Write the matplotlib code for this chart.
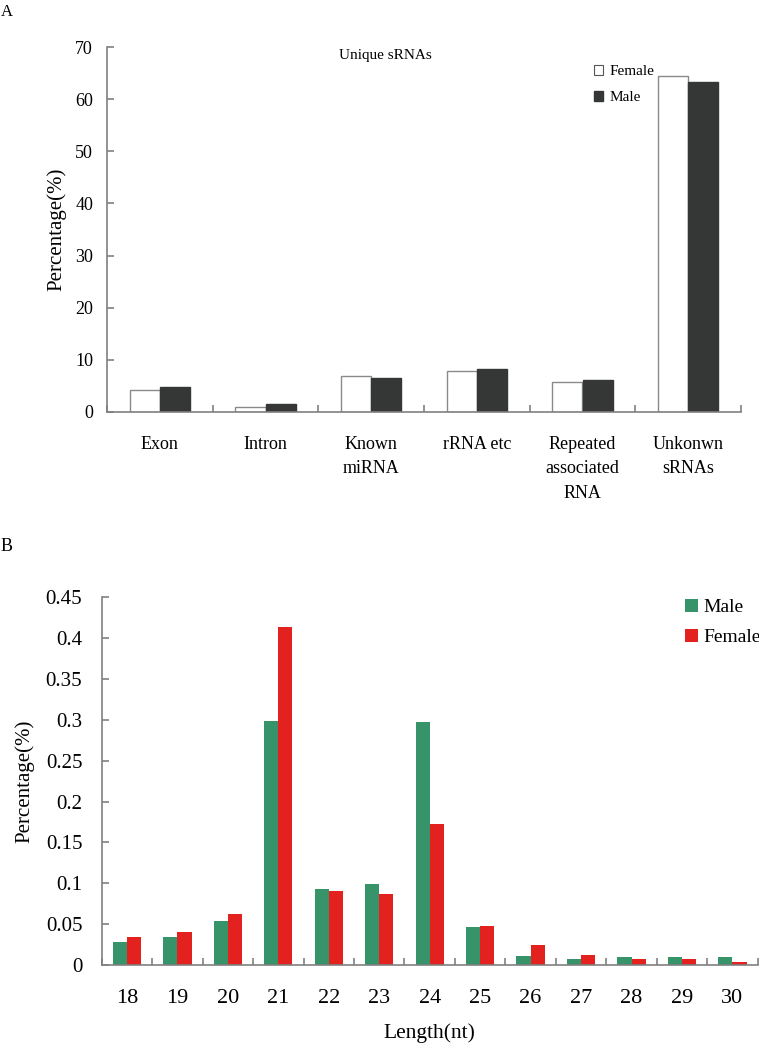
import numpy as np
import matplotlib
matplotlib.use('Agg')
import matplotlib.pyplot as plt
from matplotlib.patches import Patch

plt.rcParams['font.family'] = ['Liberation Serif', 'DejaVu Serif']

# Panel A data: unique sRNA categories
cats_a = ['Exon', 'Intron', 'Known\nmiRNA', 'rRNA etc', 'Repeated\nassociated\nRNA', 'Unkonwn\nsRNAs']
female_a = [4.2, 0.9, 6.85, 7.8, 5.75, 64.4]
male_a = [4.7, 1.5, 6.6, 8.25, 6.1, 63.3]

# Panel B data: length distribution
lengths = ['18', '19', '20', '21', '22', '23', '24', '25', '26', '27', '28', '29', '30']
male_b = [0.0285, 0.0347, 0.0542, 0.299, 0.093, 0.099, 0.297, 0.0465, 0.011, 0.0077, 0.0094, 0.0094, 0.0094]
female_b = [0.0347, 0.0404, 0.0628, 0.414, 0.090, 0.087, 0.173, 0.0477, 0.0245, 0.0122, 0.0077, 0.0077, 0.0033]

W, H = 759, 1044
fig = plt.figure(figsize=(W / 100, H / 100), dpi=100)

spine_col = '#808080'


def style_axes(ax, n):
    for s in ['top', 'right']:
        ax.spines[s].set_visible(False)
    for s in ['left', 'bottom']:
        ax.spines[s].set_color(spine_col)
        ax.spines[s].set_linewidth(1.2)
    ax.set_xlim(-0.5, n - 0.5)
    ax.set_xticks(np.arange(n))
    ax.set_xticks(np.arange(n + 1) - 0.5, minor=True)
    ax.tick_params(axis='x', which='major', length=0)
    ax.tick_params(axis='x', which='minor', direction='in', length=5, color=spine_col, width=1.2)
    ax.tick_params(axis='y', direction='in', length=5, color=spine_col, width=1.2)


# ---- Panel A ----
axA = fig.add_axes([107 / W, 1 - 412 / H, (741 - 107) / W, (412 - 47) / H])
x = np.arange(len(cats_a))
bw = 0.284
axA.bar(x - bw / 2, female_a, bw, color='white', edgecolor='#8a8a8a', linewidth=1.0, label='Female')
axA.bar(x + bw / 2, male_a, bw, color='#353737', edgecolor='#353737', linewidth=1.0, label='Male')
style_axes(axA, len(cats_a))
axA.set_ylim(0, 70)
axA.set_yticks(range(0, 71, 10))
axA.tick_params(axis='y', labelsize=13, pad=10)
axA.set_xticklabels(cats_a, fontsize=13, linespacing=1.55, va='top')
axA.tick_params(axis='x', which='major', pad=17.5)
axA.set_ylabel('Percentage(%)', fontsize=15)
axA.yaxis.set_label_coords((66 - 107) / 634, 0.5)
fig.text(385 / W, 1 - 55 / H, 'Unique sRNAs', fontsize=11, ha='center', va='center')
axA.legend(handles=[Patch(facecolor='white', edgecolor='#555555', linewidth=0.8),
                    Patch(facecolor='#353737', edgecolor='#353737')],
           labels=['Female', 'Male'], frameon=False, fontsize=11,
           handlelength=0.6, handleheight=0.6, handletextpad=0.4,
           labelspacing=0.85, borderpad=0, borderaxespad=0,
           loc='upper left', bbox_to_anchor=(594 / W, 1 - 65 / H),
           bbox_transform=fig.transFigure)

# ---- Panel B ----
axB = fig.add_axes([101.7 / W, 1 - 965 / H, 656 / W, (965 - 597.3) / H])
xb = np.arange(len(lengths))
bw2 = 0.28
axB.bar(xb - bw2 / 2, male_b, bw2, color='#36936a', label='Male')
axB.bar(xb + bw2 / 2, female_b, bw2, color='#e3221f', label='Female')
style_axes(axB, len(lengths))
axB.set_ylim(0, 0.45)
axB.set_yticks([0, 0.05, 0.1, 0.15, 0.2, 0.25, 0.3, 0.35, 0.4, 0.45])
axB.set_yticklabels(['0', '0.05', '0.1', '0.15', '0.2', '0.25', '0.3', '0.35', '0.4', '0.45'])
axB.tick_params(axis='y', labelsize=15, pad=14)
axB.set_xticklabels(lengths, fontsize=16)
axB.tick_params(axis='x', which='major', pad=17)
axB.set_ylabel('Percentage(%)', fontsize=15)
axB.yaxis.set_label_coords((34 - 101.7) / 656, 0.5)
axB.set_xlabel('Length(nt)', fontsize=15.5)
axB.xaxis.set_label_coords(0.5, (965 - 1023) / 367.7)
axB.legend(frameon=False, fontsize=14, handlelength=0.65, handleheight=0.65,
           handletextpad=0.3, labelspacing=0.66, borderpad=0, borderaxespad=0,
           loc='upper left', bbox_to_anchor=(685 / W, 1 - 599 / H),
           bbox_transform=fig.transFigure)

# panel letters
fig.text(1 / W, 1 - 4 / H, 'A', fontsize=12, ha='left', va='top')
fig.text(1 / W, 1 - 538 / H, 'B', fontsize=13, ha='left', va='top')

fig.savefig('out.png', dpi=100)
